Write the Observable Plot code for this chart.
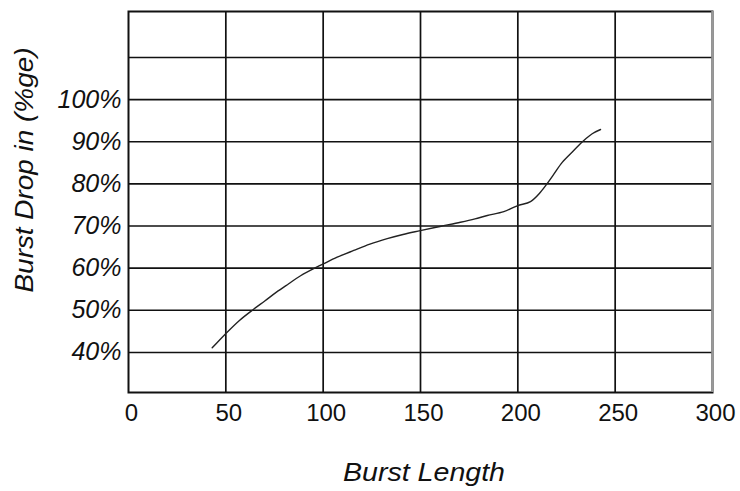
<!DOCTYPE html>
<html>
<head>
<meta charset="utf-8">
<script src="https://cdn.jsdelivr.net/npm/d3@7"></script>
<script src="https://cdn.jsdelivr.net/npm/@observablehq/plot@0.6"></script>
<style>
  html, body { margin: 0; padding: 0; background: #fff; }
</style>
</head>
<body>
<div id="chart"></div>
<script>
// Data
const burstLength = [43.0, 49.8, 57.0, 64.4, 70.0, 76.0, 82.3, 88.4, 96.9, 100.0, 107.2, 115.7, 124.0, 132.9, 141.0, 149.9, 160.0, 170.5, 178.0, 184.3, 192.8, 199.7, 206.5, 211.6, 215.9, 218.5, 222.8, 228.7, 233.9, 238.2, 242.5];
const burstDrop   = [41.1, 44.4, 47.6, 50.3, 52.2, 54.3, 56.3, 58.2, 60.3, 61.0, 62.6, 64.2, 65.7, 67.0, 68.0, 68.9, 69.9, 70.9, 71.7, 72.5, 73.4, 74.8, 75.8, 78.0, 80.6, 82.3, 85.1, 87.9, 90.3, 91.9, 92.9];

const xTicks = [0, 50, 100, 150, 200, 250, 300];
const yTicks = [40, 50, 60, 70, 80, 90, 100];
const xGrid = [50, 100, 150, 200, 250];
const yGrid = [40, 50, 60, 70, 80, 90, 100, 110];
const xTitle = "Burst Length";
const yTitle = "Burst Drop in (%ge)";

const data = burstLength.map((x, i) => ({x, y: burstDrop[i]}));

const chart = Plot.plot({
  width: 740,
  height: 491,
  marginLeft: 128,
  marginRight: 28,
  marginTop: 11,
  marginBottom: 99,
  style: {fontFamily: "'Liberation Sans', Arial, sans-serif", background: "#fff", color: "#111"},
  x: {domain: [0, 300]},
  y: {domain: [30.5, 120.9]},
  marks: [
    Plot.ruleX(xGrid, {stroke: "#111", strokeWidth: 1.7}),
    Plot.ruleY(yGrid, {stroke: "#111", strokeWidth: 1.6}),
    Plot.line(data, {x: "x", y: "y", stroke: "#222", strokeWidth: 1.4, curve: "catmull-rom"}),
    Plot.frame({stroke: "#111", strokeWidth: 2}),
    Plot.ruleX([300], {stroke: "#999", strokeWidth: 2.5}),
    Plot.axisX({ticks: xTicks, tickSize: 0, tickPadding: 11, fontSize: 24, label: null, fill: "#111", dx: 3}),
    Plot.axisY({ticks: yTicks, tickSize: 0, tickPadding: 7, fontSize: 25, fontStyle: "italic", label: null, fill: "#111", tickFormat: d => d + "%"})
  ]
});

const svg = d3.select(chart);
svg.append("text")
  .attr("x", 424)
  .attr("y", 481)
  .attr("text-anchor", "middle")
  .attr("font-size", 25)
  .attr("font-style", "italic")
  .attr("fill", "#111")
  .attr("textLength", 162)
  .attr("lengthAdjust", "spacingAndGlyphs")
  .text(xTitle);
svg.append("text")
  .attr("transform", "translate(33,170) rotate(-90)")
  .attr("text-anchor", "middle")
  .attr("font-size", 25)
  .attr("font-style", "italic")
  .attr("fill", "#111")
  .attr("textLength", 245)
  .attr("lengthAdjust", "spacingAndGlyphs")
  .text(yTitle);

document.getElementById("chart").appendChild(chart);
</script>
</body>
</html>
